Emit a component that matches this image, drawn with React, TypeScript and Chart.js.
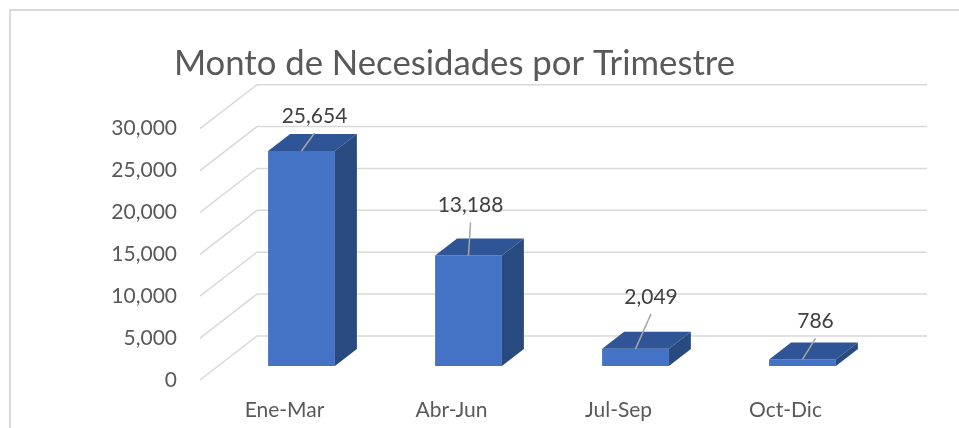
import { useEffect, useRef } from "react";
import { Chart, registerables } from "chart.js";

Chart.register(...registerables);

// ---- data ----
const categories = ["Ene-Mar", "Abr-Jun", "Jul-Sep", "Oct-Dic"];
const montos = [25654, 13188, 2049, 786];
const yTickValues = [0, 5000, 10000, 15000, 20000, 25000, 30000];
const chartTitle = "Monto de Necesidades por Trimestre";

// ---- style / placement (not data) ----
const LABEL_DX = [13, 2, 15.5, 13];
const LABEL_DY = [-35, -50, -52, -38];
const BAR_DEPTH_X = 22;
const BAR_DEPTH_Y = -17;
const FLOOR_FRONT_DX = -18;
const FLOOR_FRONT_DY = 14;
const FLOOR_BACK_DX = 39;
const FLOOR_BACK_DY = -30;
const FONT = "Lato";

const fmt = (v: number) => Number(v).toLocaleString("en-US");

const threeD = {
  id: "threeD",
  beforeDraw(chart: any) {
    const ctx = chart.ctx;
    ctx.save();
    ctx.strokeStyle = "#D9D9D9";
    ctx.lineWidth = 2;
    ctx.beginPath();
    ctx.moveTo(10, chart.height);
    ctx.lineTo(10, 10);
    ctx.lineTo(chart.width, 10);
    ctx.stroke();
    ctx.restore();
  },
  beforeDatasetsDraw(chart: any) {
    const ctx = chart.ctx;
    const ys = chart.scales.y;
    const { left, right } = chart.chartArea;
    ctx.save();
    ctx.strokeStyle = "#D9D9D9";
    ctx.lineWidth = 1.5;
    for (const v of yTickValues) {
      const py = ys.getPixelForValue(v);
      ctx.beginPath();
      ctx.moveTo(left + FLOOR_FRONT_DX, py + FLOOR_FRONT_DY);
      ctx.lineTo(left + FLOOR_BACK_DX, py + FLOOR_BACK_DY);
      ctx.lineTo(right + FLOOR_BACK_DX + 2, py + FLOOR_BACK_DY);
      ctx.stroke();
    }
    ctx.restore();
  },
  afterDatasetsDraw(chart: any) {
    const ctx = chart.ctx;
    const meta = chart.getDatasetMeta(0);
    ctx.save();
    meta.data.forEach((bar: any, i: number) => {
      const { x, y, base, width } = bar.getProps(["x", "y", "base", "width"], true);
      const x0 = x - width / 2;
      const x1 = x + width / 2;
      // top face
      ctx.fillStyle = "#2F5597";
      ctx.beginPath();
      ctx.moveTo(x0, y);
      ctx.lineTo(x1, y);
      ctx.lineTo(x1 + BAR_DEPTH_X, y + BAR_DEPTH_Y);
      ctx.lineTo(x0 + BAR_DEPTH_X, y + BAR_DEPTH_Y);
      ctx.closePath();
      ctx.fill();
      // side face
      ctx.fillStyle = "#294A7F";
      ctx.beginPath();
      ctx.moveTo(x1, y);
      ctx.lineTo(x1 + BAR_DEPTH_X, y + BAR_DEPTH_Y);
      ctx.lineTo(x1 + BAR_DEPTH_X, base + BAR_DEPTH_Y);
      ctx.lineTo(x1, base);
      ctx.closePath();
      ctx.fill();
      // leader + label
      const lx = x + LABEL_DX[i];
      const ly = y + LABEL_DY[i];
      ctx.strokeStyle = "#A6A6A6";
      ctx.lineWidth = 1.5;
      ctx.beginPath();
      ctx.moveTo(x, y);
      ctx.lineTo(lx, ly + 17);
      ctx.stroke();
      ctx.fillStyle = "#404040";
      ctx.font = `21px ${FONT}`;
      ctx.textAlign = "center";
      ctx.textBaseline = "middle";
      ctx.fillText(fmt(montos[i]), lx, ly);
    });
    ctx.restore();
  },
};

export default function App() {
  const ref = useRef<HTMLCanvasElement | null>(null);
  useEffect(() => {
    if (!ref.current) return;
    const chart = new Chart(ref.current, {
      type: "bar",
      data: {
        labels: categories,
        datasets: [
          {
            data: montos,
            backgroundColor: "#4472C4",
            borderWidth: 0,
            barPercentage: 0.4,
            categoryPercentage: 1,
          },
        ],
      },
      options: {
        responsive: false,
        animation: false,
        devicePixelRatio: 1,
        layout: { padding: { left: 23, right: 73, top: 0, bottom: 0 } },
        plugins: {
          legend: { display: false },
          tooltip: { enabled: false },
          title: {
            display: true,
            text: chartTitle,
            color: "#595959",
            font: { family: FONT, size: 34.7, weight: "normal" as any, lineHeight: 1.2 },
            padding: { top: 43, bottom: 30 },
          },
        },
        scales: {
          x: {
            grid: { display: false, drawTicks: false },
            border: { display: false },
            ticks: {
              color: "#595959",
              font: { family: FONT, size: 21 },
              padding: 32,
              labelOffset: -17,
            },
            afterFit: (s: any) => {
              s.height = 62;
            },
          },
          y: {
            min: 0,
            max: 30000,
            grid: { display: false, drawTicks: false },
            border: { display: false },
            afterBuildTicks: (s: any) => {
              s.ticks = yTickValues.map((v) => ({ value: v }));
            },
            ticks: {
              color: "#595959",
              font: { family: FONT, size: 21 },
              padding: 41,
              labelOffset: 14,
              callback: (v: any) => fmt(v),
            },
            afterFit: (s: any) => {
              s.width = 195;
            },
          },
        },
      },
      plugins: [threeD],
    });
    return () => chart.destroy();
  }, []);
  return (
    <div style={{ position: "fixed", left: 0, top: 0, width: 959, height: 428, background: "#fff" }}>
      <canvas ref={ref} width={959} height={428} style={{ display: "block" }} />
    </div>
  );
}
